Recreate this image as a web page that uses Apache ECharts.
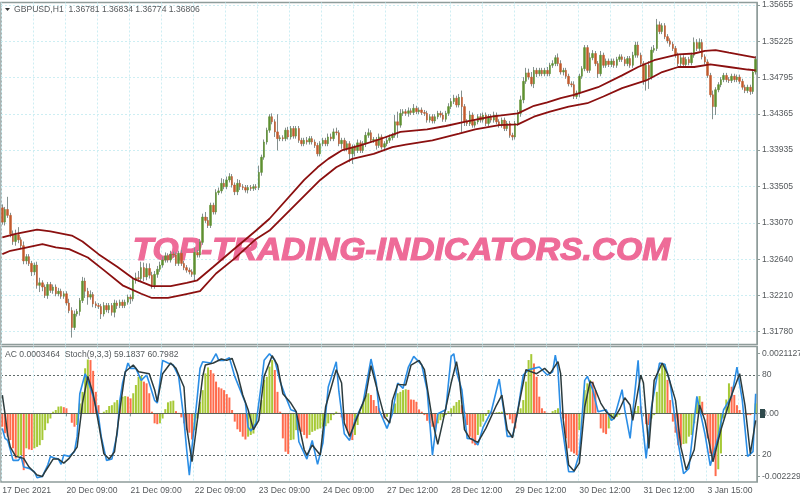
<!DOCTYPE html>
<html><head><meta charset="utf-8">
<script src="https://cdn.jsdelivr.net/npm/echarts@6/dist/echarts.min.js"></script>
<style>html,body{margin:0;padding:0;background:#fff}#c{width:800px;height:500px}</style>
</head><body><div id="c"></div>
<script>
// ---------- data ----------
const firstOpenPips = 13325;
// hourly closes, in units of 0.0001
const closePips = [
13308,13323,13316,13294,13285,13293,13287,13280,13262,13267,
13259,13249,13257,13233,13236,13231,13221,13234,13227,13231,
13223,13226,13220,13223,13212,13203,13183,13199,13202,13215,
13238,13226,13219,13222,13211,13209,13208,13199,13209,13204,
13209,13201,13212,13209,13213,13209,13213,13219,13217,13239,
13242,13241,13254,13243,13253,13245,13233,13246,13252,13257,
13263,13268,13263,13270,13269,13259,13271,13259,13254,13251,
13249,13246,13272,13269,13284,13314,13310,13304,13328,13320,
13343,13345,13354,13350,13358,13362,13352,13344,13354,13350,
13349,13346,13349,13348,13350,13349,13367,13385,13403,13417,
13433,13427,13415,13407,13408,13407,13417,13409,13419,13410,
13419,13405,13401,13405,13403,13407,13403,13399,13389,13401,
13405,13401,13409,13407,13415,13414,13401,13405,13395,13401,
13389,13397,13393,13402,13393,13401,13411,13414,13405,13406,
13399,13409,13397,13401,13405,13408,13411,13427,13423,13437,
13439,13437,13440,13438,13443,13439,13441,13438,13437,13429,
13433,13428,13433,13437,13435,13430,13437,13445,13451,13455,
13447,13456,13445,13427,13425,13435,13423,13427,13433,13429,
13435,13425,13433,13429,13435,13427,13423,13429,13419,13425,
13411,13409,13425,13437,13453,13475,13485,13480,13472,13488,
13484,13488,13484,13488,13484,13494,13496,13503,13496,13486,
13488,13481,13472,13471,13457,13461,13481,13490,13515,13488,
13503,13508,13496,13484,13506,13494,13499,13495,13499,13494,
13501,13504,13501,13496,13502,13494,13506,13518,13506,13496,
13476,13494,13480,13512,13514,13542,13534,13541,13528,13523,
13519,13514,13506,13496,13503,13495,13501,13497,13506,13521,
13514,13521,13504,13498,13482,13459,13445,13465,13471,13477,
13482,13477,13476,13481,13477,13480,13475,13468,13464,13468,
13463,13486,13501];
// length of each candle's upper and lower wick, same units
const upperWicks = [
4,3,15,3,4,6,9,3,5,3, 3,3,3,4,6,3,3,3,3,3, 3,4,3,3,3,5,4,4,3,3, 5,4,4,5,3,3,3,3,4,3,
3,3,4,3,3,3,3,3,3,3, 6,8,7,6,6,6,4,4,4,4, 4,4,3,4,3,3,3,4,3,3, 3,3,6,3,4,4,6,4,3,3,
4,4,6,5,4,4,3,3,5,4, 3,3,3,3,3,3,8,3,3,3, 3,4,3,21,3,3,3,4,3,3, 3,3,3,3,4,3,3,3,3,3,
3,3,4,4,4,5,3,3,3,3, 3,3,3,4,3,3,4,5,3,3, 3,4,3,3,4,4,3,8,12,5, 3,3,4,3,5,3,3,3,3,3,
3,3,3,3,3,3,3,4,4,4, 3,4,8,3,3,5,3,3,3,4, 3,3,3,3,4,3,3,3,3,3, 3,3,3,4,5,5,6,5,6,4,
3,3,3,3,4,3,4,3,5,4, 3,3,3,3,4,3,3,3,3,3, 6,4,3,3,5,3,3,3,3,3, 3,3,3,3,3,3,4,4,4,3,
3,3,5,4,4,7,4,3,3,3, 3,3,3,3,3,3,3,3,3,6, 4,5,4,3,3,3,5,3,3,3, 3,3,3,3,3,3,3,3,3,3, 3,3,4];
const lowerWicks = [
3,4,3,4,4,5,4,4,4,4, 3,5,4,4,8,5,3,4,3,4, 3,3,3,3,3,3,12,3,3,5, 3,8,9,3,4,3,3,6,3,3,
4,4,6,4,3,3,3,3,6,3, 4,4,4,5,4,4,4,4,4,3, 3,3,3,3,3,3,3,3,3,3, 3,3,8,3,3,3,3,3,3,3,
3,3,3,3,3,3,3,4,4,4, 3,3,4,3,3,3,3,4,3,3, 3,3,6,14,3,3,3,3,3,3, 3,3,3,3,3,3,3,3,3,3,
3,3,3,3,3,3,3,6,3,3, 10,12,7,3,3,3,4,3,3,3, 5,3,3,5,3,3,3,3,15,3, 3,3,4,3,3,3,3,3,3,3,
3,3,3,3,3,3,3,3,3,3, 3,3,30,5,3,3,3,3,3,3, 3,3,3,3,3,3,3,3,3,3, 3,4,3,3,4,4,3,3,3,5,
4,3,3,3,3,3,3,3,3,3, 4,3,3,3,3,3,5,3,3,3, 3,3,3,5,3,3,3,3,3,3, 3,3,3,3,3,3,3,3,3,3,
5,12,14,3,3,3,3,3,3,3, 3,3,3,3,3,3,3,3,3,3, 3,3,3,3,3,3,15,10,3,3, 3,3,3,3,3,3,3,3,3,3, 4,3,3];
// the two moving averages as [bar, price*10000] read at their bends
const upperAverage = [[0,13290],[5,13294],[13,13299],[18,13297],[26,13292],[30,13285],[36,13270],[43,13255],[49,13241],[56,13232],[63,13232],[69,13236],[73,13239],[79,13255],[86,13274],[95,13298],[100,13312],[113,13358],[118,13373],[122,13383],[127,13393],[134,13399],[141,13406],[149,13415],[159,13418],[166,13422],[173,13427],[183,13433],[193,13437],[199,13446],[204,13450],[209,13455],[214,13459],[223,13468],[232,13482],[238,13492],[244,13500],[253,13507],[259,13508],[263,13511],[267,13512],[272,13509],[279,13505],[282,13503]];
const lowerAverage = [[0,13270],[3,13274],[8,13277],[15,13282],[20,13278],[25,13276],[32,13266],[38,13251],[45,13233],[52,13223],[56,13218],[62,13218],[68,13222],[74,13226],[80,13247],[87,13265],[95,13288],[100,13298],[119,13358],[125,13373],[131,13383],[139,13389],[146,13397],[151,13400],[161,13405],[171,13413],[177,13418],[186,13423],[193,13424],[199,13433],[205,13439],[212,13445],[219,13449],[225,13457],[232,13467],[241,13476],[247,13486],[253,13492],[259,13492],[265,13495],[272,13492],[279,13489],[282,13488]];
// Accelerator oscillator per bar, in units of 0.00001
const acValues = [
-47,-70,-82,-94,-123,-159,-153,-147,-200,-123,
-127,-129,-123,-118,-112,-94,-59,-35,-18,6,
12,24,25,22,18,0,-33,-47,-41,35,
76,159,190,188,150,76,29,0,6,12,
26,29,39,47,35,59,61,59,53,71,
100,129,132,112,106,71,6,-35,-38,-35,
-18,15,39,43,45,8,2,-14,-35,-59,
-68,-92,-59,-18,41,82,141,162,153,141,
112,92,88,82,68,56,12,-29,-56,-65,
-82,-92,-82,-76,-71,-41,0,47,118,129,
165,188,153,76,6,-88,-135,-143,-94,-92,
-59,-60,-65,-76,-88,-76,-65,-61,-56,-53,
-47,-45,-35,-24,-6,6,2,-14,-24,-59,
-76,-94,-76,-41,6,35,65,71,65,47,
26,18,-2,-18,-12,2,14,35,71,76,
82,85,83,49,48,41,14,6,-6,-26,
-35,-47,-53,-35,-24,-14,-6,8,18,27,
40,47,29,6,-41,-82,-106,-112,-76,-47,
-29,-9,12,6,2,4,5,6,0,-6,
-21,-35,-53,6,18,47,112,188,209,176,
129,59,18,8,2,0,8,12,18,6,
-18,-88,-123,-135,-141,-147,-59,0,82,106,
118,112,82,0,-53,-68,-73,-53,-24,-21,
-12,-6,-2,0,-2,-1,0,9,26,25,
0,-38,-41,-18,-6,76,141,170,174,118,
47,-29,-68,-112,-113,-108,-106,-82,-76,-35,
53,61,41,-6,-88,-141,-153,-221,-197,-141,
-18,49,106,94,65,29,12,0,-2,-6,
-6,-2,35];
// stochastic lines as [bar, value] read at their turning points
const stochMain = [[0,40],[1,32.5],[2,31],[3,24],[4,16],[6,16],[7,19],[8,11],[10,10],[12,7.5],[13,3],[15,4],[17,12.5],[18,19],[20,17.5],[21,17],[22,13],[23,20],[25,19],[27,22.5],[28,34],[29,66],[31,81],[32,76],[34,64],[36,49],[37,34],[39,16],[41,17],[43,36],[44,61],[45,74],[47,89],[48,85],[50,85],[52,76],[54,80],[55,74],[57,61],[58,59],[60,91],[62,89],[64,87.5],[66,79],[68,46],[69,24],[70,5],[71,26],[73,64],[74,85],[75,90],[78,89],[80,96],[81,91],[83,91],[85,93],[87,79],[89,69],[91,59],[92,41],[93,38],[95,44],[97,74],[98,91],[100,96],[102,91],[104,75],[106,64],[108,54],[110,52.5],[111,30],[114,17],[116,31],[118,13],[120,29],[122,71],[125,90],[126,67.5],[128,36],[130,31],[132,46],[135,59],[138,92],[140,74],[141,54],[144,40],[146,51],[148,74],[150,70],[152,86],[154,94],[157,87.5],[159,69],[161,20],[163,51],[166,54],[168,94],[169,96],[170,82.5],[172,69],[174,32.5],[176,32],[178,27.5],[180,41],[183,52.5],[186,77],[188,49],[189,34],[191,34],[193,54],[195,80],[197,84],[199,85],[201,86],[204,80],[206,82.5],[207,95],[208,84],[209,49],[211,21],[212,7.5],[214,7.5],[216,21],[218,76],[219,79],[221,69],[223,52.5],[226,54],[228,46],[229,47.5],[232,69],[233,54],[235,32.5],[238,91],[239,56],[241,17.5],[243,56],[246,89],[248,88],[250,74],[253,29],[255,6],[257,10],[260,64],[263,36],[265,12],[268,34],[270,54],[273,64],[275,86],[277,61],[279,19],[281,22.5],[282,66]];
const stochSignal = [[0,65],[1,51],[2,35],[3,26],[5,19],[8,17.5],[10,11],[13,5],[15,4],[16,7.5],[19,17],[21,17],[23,14],[25,17.5],[28,26],[30,59],[32,79],[34,66],[36,44],[38,21],[40,17],[42,22.5],[44,54],[46,82.5],[49,87.5],[51,82.5],[55,81],[57,69],[58,60],[60,81],[63,89],[65,85],[68,71],[69,41],[71,15],[73,46],[75,79],[76,87.5],[79,89],[82,92],[84,91],[86,92.5],[88,81],[90,65],[92,54],[94,39],[96,46],[98,79],[101,94.5],[103,87.5],[105,66],[108,59],[110,52.5],[113,24],[114,20],[116,27.5],[119,20],[121,56],[125,84],[127,74],[128,44],[130,34],[133,49],[136,64],[138,87],[141,64],[143,49],[145,44],[146,61],[148,73],[151,72.5],[153,87.5],[156,91],[158,84],[161,46],[163,28],[165,46],[168,74],[170,90],[171,79],[173,39],[175,32.5],[178,29.5],[181,40],[185,57.5],[187,65],[189,39],[191,33],[194,64],[196,84],[200,81],[203,85],[205,81],[208,90],[209,81],[210,46],[212,12.5],[214,8],[216,14],[218,56],[220,75],[221,74],[224,59],[226,52.5],[229,47.5],[231,54],[233,63],[235,57.5],[236,46],[239,80],[240,74],[242,25],[244,76],[247,89],[249,81],[252,61],[254,26],[256,9],[259,24],[261,57.5],[263,46],[266,15],[269,39],[273,65],[276,81],[278,57.5],[280,21],[282,46]];
// axis labels
const priceTicks = [1.35655,1.35225,1.34795,1.34365,1.33935,1.33505,1.33070,1.32640,1.32210,1.31780];
const acTicks = [0.0021127,0,-0.0022292];
const stochLevels = [80,20];
const timeLabels = ['17 Dec 2021','20 Dec 09:00','21 Dec 09:00','22 Dec 09:00','23 Dec 09:00','24 Dec 09:00','27 Dec 12:00','28 Dec 12:00','29 Dec 12:00','30 Dec 12:00','31 Dec 12:00','3 Jan 15:00'];
const headerText = 'GBPUSD,H1  1.36781 1.36834 1.36774 1.36806';
const oscText = 'AC 0.0003464  Stoch(9,3,3) 59.1837 60.7982';
const watermark = 'TOP-TRADING-INDICATORS.COM';
// ---------- chart ----------
const BARS_PER_LABEL = 24, BARS_PER_GRID = 12;
const categories = closePips.map((_, i) => i % BARS_PER_LABEL === 0 ? timeLabels[i / BARS_PER_LABEL] : '');
const price = p => p / 10000;
const bars = closePips.map((c, i) => {
  const o = i ? closePips[i - 1] : firstOpenPips;
  return { o: price(o), c: price(c),
    h: price(Math.max(o, c) + upperWicks[i]), l: price(Math.min(o, c) - lowerWicks[i]) };
});
const wickData = bars.map(b => [b.o, b.c, b.l, b.h]);
const bodyData = bars.map(b => [b.o, b.c, Math.min(b.o, b.c), Math.max(b.o, b.c)]);
const avg = a => a.map(([i, p]) => [i, price(p)]);
const GRIDC = '#cdeef3', FRAME = '#8f9c9a', TXT = '#55595c';
const font = 'Liberation Sans', FS = 8.6;
const xAxisBase = (g) => ({
  type: 'category', gridIndex: g, data: categories, boundaryGap: true,
  axisLine: { show: false },
  splitLine: { show: true, interval: (i) => i % BARS_PER_GRID === 0, lineStyle: { color: GRIDC, type: [2, 2], width: 1 } }
});
const chart = echarts.init(document.getElementById('c'), null, { renderer: 'canvas' });
chart.setOption({
  animation: false, backgroundColor: '#fff',
  grid: [
    { left: 1, top: 2.5, width: 756, height: 342, show: true, borderColor: FRAME, borderWidth: 1.5, containLabel: false, outerBoundsMode: 'none' },
    { left: 1, top: 346.5, width: 756, height: 135.5, show: true, borderColor: FRAME, borderWidth: 1.5, containLabel: false, outerBoundsMode: 'none' }
  ],
  xAxis: [
    Object.assign(xAxisBase(0), { axisTick: { show: false }, axisLabel: { show: false } }),
    Object.assign(xAxisBase(1), {
      axisTick: { show: true, alignWithLabel: true, length: 3, interval: (i) => i % BARS_PER_LABEL === 0, lineStyle: { color: FRAME } },
      axisLabel: { show: true, interval: (i) => i % BARS_PER_LABEL === 0, align: 'left', margin: 4, color: TXT, fontSize: FS, fontFamily: font, hideOverlap: false }
    })
  ],
  yAxis: [
    { type: 'value', gridIndex: 0, position: 'right', min: 1.31628, max: 1.35685, scale: true,
      axisLine: { show: true, lineStyle: { color: FRAME } },
      axisTick: { show: true, length: 3, customValues: priceTicks, lineStyle: { color: FRAME } },
      axisLabel: { show: true, customValues: priceTicks, margin: 5, color: TXT, fontSize: FS, fontFamily: font, formatter: v => v.toFixed(5) },
      splitLine: { show: true, lineStyle: { color: GRIDC, type: [2, 2] } } },
    { type: 'value', gridIndex: 1, position: 'right', min: -0.002418, max: 0.002358,
      axisLine: { show: true, lineStyle: { color: FRAME } },
      axisTick: { show: true, length: 3, customValues: acTicks, lineStyle: { color: FRAME } },
      axisLabel: { show: true, customValues: acTicks, margin: 5, color: TXT, fontSize: FS, fontFamily: font,
        formatter: v => v === 0 ? '0.00' : String(v) },
      splitLine: { show: false } },
    { type: 'value', gridIndex: 1, position: 'right', min: -0.2, max: 101.4,
      axisLine: { show: false },
      axisTick: { show: true, length: 3, customValues: stochLevels, lineStyle: { color: FRAME } },
      axisLabel: { show: true, customValues: stochLevels, margin: 5, color: TXT, fontSize: FS, fontFamily: font },
      splitLine: { show: true, lineStyle: { color: '#5f6b6b', type: [2, 2], width: 1 } } }
  ],
  series: [
    { type: 'candlestick', xAxisIndex: 0, yAxisIndex: 0, data: wickData, barWidth: 1, z: 3,
      itemStyle: { color: '#84908e', color0: '#84908e', borderColor: '#84908e', borderColor0: '#84908e', borderWidth: 1 } },
    { type: 'candlestick', xAxisIndex: 0, yAxisIndex: 0, data: bodyData, barWidth: 2, z: 4,
      itemStyle: { color: '#5e9030', color0: '#c25a2c', borderColor: '#5e9030', borderColor0: '#c25a2c', borderWidth: 0.5 } },
    { type: 'line', xAxisIndex: 0, yAxisIndex: 0, data: avg(upperAverage), showSymbol: false, z: 5,
      lineStyle: { color: '#8b1010', width: 1.8 } },
    { type: 'line', xAxisIndex: 0, yAxisIndex: 0, data: avg(lowerAverage), showSymbol: false, z: 5,
      lineStyle: { color: '#8b1010', width: 1.8 } },
    { type: 'bar', xAxisIndex: 1, yAxisIndex: 1, data: acValues.map(v => v / 100000), barWidth: 2, z: 2,
      itemStyle: { color: p => (p.dataIndex && acValues[p.dataIndex] > acValues[p.dataIndex - 1]) ? '#a6c936' : '#ff6b4c' },
      markLine: { silent: true, symbol: 'none', label: { show: false }, z: 3,
        lineStyle: { color: '#59655c', type: 'solid', width: 1 }, data: [{ yAxis: 0 }] } },
    { type: 'line', xAxisIndex: 1, yAxisIndex: 2, data: stochMain, showSymbol: false, z: 4,
      lineStyle: { color: '#2b8ee6', width: 1.6 } },
    { type: 'line', xAxisIndex: 1, yAxisIndex: 2, data: stochSignal, showSymbol: false, z: 5,
      lineStyle: { color: '#2c3b3d', width: 1.5 } }
  ],
  graphic: [
    { type: 'text', z: 1, left: 132, top: 235, silent: true, scaleX: 1.05, style: { text: watermark, fill: '#ee6b98', font: 'italic bold 32px "Liberation Sans"', stroke: '#ee6b98', lineWidth: 1.2 } },
    { type: 'polygon', z: 10, silent: true, shape: { points: [[5, 8], [10, 8], [7.5, 11]] }, style: { fill: '#333' } },
    { type: 'rect', z: 10, silent: true, shape: { x: 760, y: 409, width: 5, height: 9 }, style: { fill: '#2f4a4c' } },
    { type: 'text', z: 10, left: 14, top: 5, silent: true, style: { text: headerText, fill: TXT, font: FS + 'px "Liberation Sans"' } },
    { type: 'text', z: 10, left: 5, top: 350, silent: true, style: { text: oscText, fill: TXT, font: FS + 'px "Liberation Sans"' } }
  ]
});
</script></body></html>
